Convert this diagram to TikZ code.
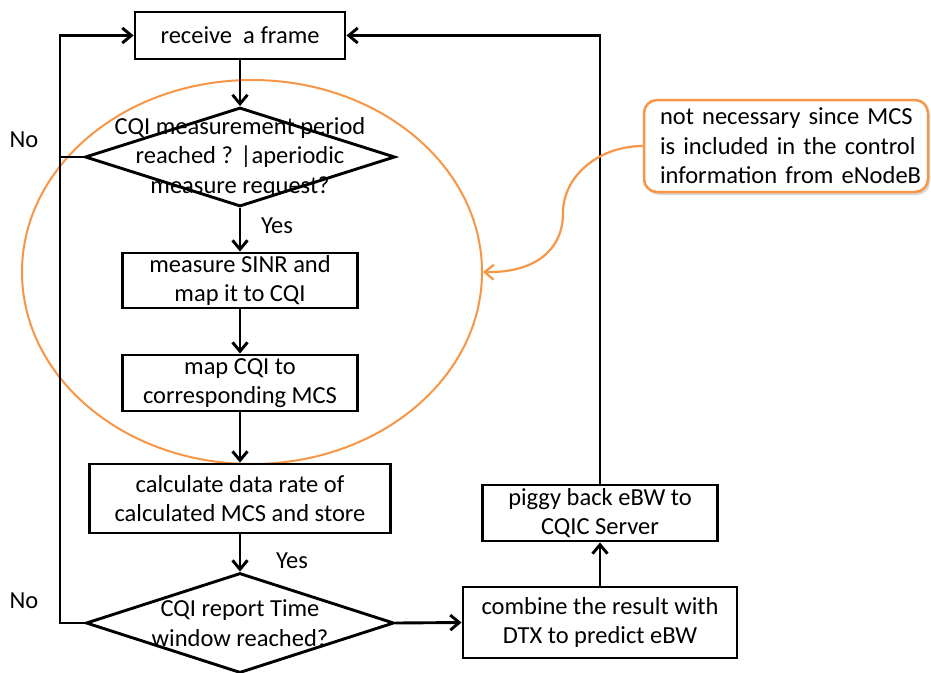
\documentclass[tikz,border=0pt]{standalone}
\usepackage{fontspec}
\setmainfont{Carlito}
\usetikzlibrary{arrows.meta,shapes.geometric,shadows}
\definecolor{accent}{RGB}{247,150,70}
\begin{document}
\begin{tikzpicture}[x=1pt,y=-1pt,
  font=\fontsize{24.5}{29.5}\selectfont,
  flow/.style={draw=black, line width=2.9pt, rectangle, align=center, inner sep=0pt},
  decision/.style={draw=black, line width=2.9pt, diamond, inner sep=0pt},
  conn/.style={line width=2.9pt, -{Straight Barb[length=9pt,width=15pt]}},
  wire/.style={line width=2.9pt},
  tag/.style={inner sep=0pt, align=center},
  noteline/.style={accent, line width=2.2pt, -{Straight Barb[length=9pt,width=15pt]}}
]
\useasboundingbox (0,0) rectangle (931,672);

% highlighted region around the measurement steps
\node[ellipse, draw=accent, line width=2pt, minimum width=460pt, minimum height=384pt, inner sep=0pt] (focus) at (252,272) {};

% flow steps
\node[flow, minimum width=210pt, minimum height=47pt] (recv) at (240,35.5) {receive\ \ a frame};
\node[decision, minimum width=310pt, minimum height=99pt] (meas) at (240,157) {};
\node[tag] at (meas) {CQI measurement period\\reached ? |aperiodic\\measure request?};
\node[flow, minimum width=235pt, minimum height=55pt] (sinr) at (240,280.5) {measure SINR and\\map it to CQI};
\node[flow, minimum width=235pt, minimum height=56pt] (mcs) at (240,383) {map CQI to\\corresponding MCS};
\node[flow, minimum width=301pt, minimum height=69pt] (rate) at (240,498.5) {calculate data rate of\\calculated MCS and store};
\node[decision, minimum width=308pt, minimum height=100pt] (win) at (240,623) {};
\node[tag] at (win) {CQI report Time\\window reached?};
\node[flow, minimum width=274pt, minimum height=71pt] (pred) at (600,622.5) {combine the result with\\DTX to predict eBW};
\node[flow, minimum width=235pt, minimum height=56pt] (pig) at (600,513) {piggy back eBW to\\CQIC Server};

% connectors
\coordinate (loop) at (60,0);
\draw[conn] (recv.south) -- (meas.north);
\draw[conn] (meas.south) -- (sinr.north);
\draw[conn] (sinr.south) -- (mcs.north);
\draw[conn] (mcs.south) -- (rate.north);
\draw[conn] (rate.south) -- (win.north);
\draw[conn] (win.east) -- (pred.west);
\draw[conn] (pred.north) -- (pig.south);
\draw[conn] (pig.north) |- (recv.east);
\draw[conn] (meas.west) -| (loop |- recv.west) -- (recv.west);
\draw[wire] (win.west) -| (loop |- meas.west);

% branch labels
\node[tag] at (24,140) {No};
\node[tag] at (277,226) {Yes};
\node[tag] at (292,561) {Yes};
\node[tag] at (24,601) {No};

% remark
\node[draw=accent, line width=2.5pt, rounded corners=13pt, fill=white,
      drop shadow={opacity=0.3, shadow xshift=2pt, shadow yshift=-3pt},
      minimum width=284pt, minimum height=92pt, inner sep=0pt]
  (note) at (786,146) {};
\node[tag, text width=262pt, align=left]
  at ([xshift=5pt]note.center)
  {\makebox[262pt][s]{not necessary since MCS}\\\makebox[262pt][s]{is included in the control}\\\makebox[262pt][l]{information from eNodeB}};
\coordinate (bend) at (563,213);
\draw[noteline] (note.west) .. controls (600,146) and (563,175) .. (bend)
  .. controls (563,250) and (535,273) .. (focus.east);
\end{tikzpicture}
\end{document}
